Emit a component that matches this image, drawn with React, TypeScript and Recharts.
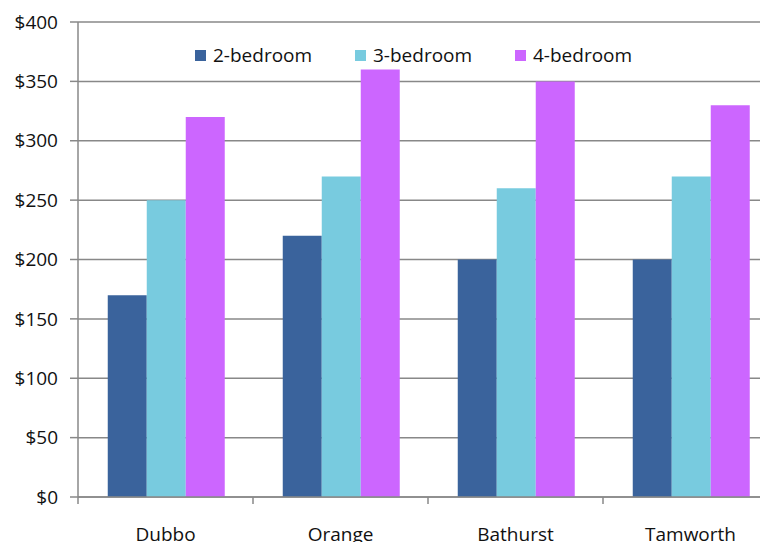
import React from 'react'
import { BarChart, Bar, XAxis, YAxis, CartesianGrid, Legend } from 'recharts'

const towns = ['Dubbo', 'Orange', 'Bathurst', 'Tamworth']
const twoBed = [170, 220, 200, 200]
const threeBed = [250, 270, 260, 270]
const fourBed = [320, 360, 350, 330]
const rentTicks = [0, 50, 100, 150, 200, 250, 300, 350, 400]

const series = [
  { key: 'two', name: '2-bedroom', color: '#3a639c' },
  { key: 'three', name: '3-bedroom', color: '#78cbdf' },
  { key: 'four', name: '4-bedroom', color: '#cc66ff' },
]

const data = towns.map((town, i) => ({
  town,
  two: twoBed[i],
  three: threeBed[i],
  four: fourBed[i],
}))

const axisGrey = '#888888'
const font = '"Open Sans", sans-serif'

// category label plus a tick mark on the left boundary of each band
function TownTick(props: any) {
  const { x, y, payload } = props
  const edge = x - (payload.offset || 0)
  return (
    <g>
      <line x1={edge} x2={edge} y1={y} y2={y + 7} stroke={axisGrey} strokeWidth={1.5} />
      <text x={x} y={y + 44} textAnchor="middle" fill="#111" fontSize={19} fontFamily={font}>
        {payload.value}
      </text>
    </g>
  )
}

function LegendRow() {
  return (
    <div style={{ display: 'flex', fontFamily: font, fontSize: 19, color: '#111' }}>
      {series.map(s => (
        <div key={s.key} style={{ width: 160, display: 'flex', alignItems: 'center' }}>
          <span style={{ width: 11, height: 11, background: s.color, marginRight: 7, display: 'inline-block' }} />
          <span>{s.name}</span>
        </div>
      ))}
    </div>
  )
}

export default function App() {
  return (
    <div style={{ width: 760, height: 534, overflow: 'hidden', fontFamily: font }}>
      <BarChart
        width={780}
        height={534}
        data={data}
        margin={{ top: 14, right: 10, bottom: 0, left: 0 }}
        barGap={0}
        barCategoryGap="17%"
      >
        <CartesianGrid vertical={false} stroke={axisGrey} strokeWidth={1.5} />
        <XAxis
          dataKey="town"
          height={45}
          axisLine={{ stroke: axisGrey, strokeWidth: 1.5 }}
          tickLine={false}
          tickSize={0}
          tickMargin={0}
          tick={<TownTick />}
          interval={0}
        />
        <YAxis
          width={70}
          domain={[0, 400]}
          ticks={rentTicks}
          tickFormatter={(v: number) => `$${v}`}
          axisLine={{ stroke: axisGrey, strokeWidth: 1.5 }}
          tickLine={{ stroke: axisGrey, strokeWidth: 1.5 }}
          tickSize={8}
          tickMargin={12}
          tick={{ fill: '#111', fontSize: 19, fontFamily: font }}
        />
        <Legend
          layout="horizontal"
          verticalAlign="middle"
          align="center"
          wrapperStyle={{ top: 34, left: 187, width: 480 }}
          content={<LegendRow />}
        />
        {series.map(s => (
          <Bar key={s.key} dataKey={s.key} name={s.name} fill={s.color} isAnimationActive={false} />
        ))}
      </BarChart>
    </div>
  )
}
